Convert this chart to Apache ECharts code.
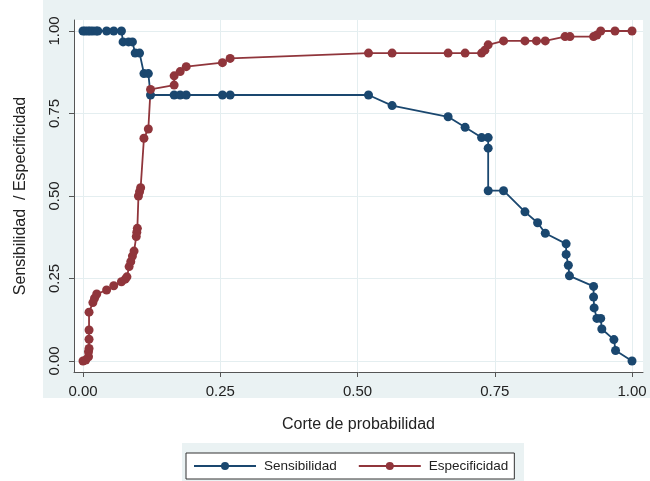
<!DOCTYPE html>
<html>
<head>
<meta charset="utf-8">
<script src="https://cdn.jsdelivr.net/npm/echarts@6/dist/echarts.min.js"></script>
<style>
  html, body { margin: 0; padding: 0; background: #fff; }
  #chart { width: 650px; height: 481px; }
</style>
</head>
<body>
<div id="chart"></div>
<script>
// cortes de probabilidad y valores
const sensX = [0.0, 0.004, 0.009, 0.013, 0.018, 0.024, 0.027, 0.043, 0.056, 0.070,
  0.073, 0.083, 0.090, 0.095, 0.103, 0.111, 0.119, 0.123, 0.166, 0.177, 0.188,
  0.254, 0.268, 0.520, 0.563, 0.665, 0.696, 0.726, 0.738, 0.738, 0.738, 0.766,
  0.805, 0.828, 0.842, 0.880, 0.880, 0.884, 0.886, 0.930, 0.930, 0.931, 0.936,
  0.943, 0.945, 0.967, 0.970, 1.0];
const sensY = [1.0, 1.0, 1.0, 1.0, 1.0, 1.0, 1.0, 1.0, 1.0, 1.0,
  0.967, 0.967, 0.967, 0.933, 0.933, 0.871, 0.871, 0.806, 0.806, 0.806, 0.806,
  0.806, 0.806, 0.806, 0.774, 0.740, 0.708, 0.677, 0.677, 0.645, 0.516, 0.516,
  0.452, 0.419, 0.387, 0.355, 0.323, 0.290, 0.258, 0.226, 0.194, 0.161, 0.129,
  0.129, 0.097, 0.065, 0.032, 0.0];

const specX = [0.0, 0.005, 0.010, 0.010, 0.011, 0.011, 0.011, 0.011, 0.018, 0.021,
  0.025, 0.043, 0.056, 0.070, 0.077, 0.080, 0.084, 0.087, 0.090, 0.093, 0.097,
  0.098, 0.099, 0.101, 0.103, 0.105, 0.111, 0.119, 0.123, 0.166, 0.166, 0.177,
  0.188, 0.254, 0.268, 0.520, 0.563, 0.665, 0.696, 0.726, 0.732, 0.738, 0.766,
  0.805, 0.826, 0.842, 0.878, 0.887, 0.930, 0.936, 0.943, 0.969, 1.0];
const specY = [0.0, 0.003, 0.013, 0.028, 0.038, 0.066, 0.094, 0.148, 0.177, 0.190,
  0.203, 0.215, 0.228, 0.240, 0.248, 0.255, 0.286, 0.301, 0.318, 0.333, 0.377,
  0.390, 0.402, 0.500, 0.513, 0.525, 0.675, 0.703, 0.823, 0.836, 0.864, 0.877,
  0.892, 0.904, 0.917, 0.933, 0.933, 0.933, 0.933, 0.933, 0.942, 0.958, 0.970,
  0.970, 0.970, 0.970, 0.983, 0.983, 0.983, 0.988, 1.0, 1.0, 1.0];

const ticks = [0, 0.25, 0.5, 0.75, 1];

const azul = '#1a476f';
const rojo = '#90353b';
const fondo = '#eaf2f3';

const chart = echarts.init(document.getElementById('chart'));

const pares = (xs, ys) => xs.map((x, i) => [x, ys[i]]);

const option = {
  animation: false,
  textStyle: { fontFamily: 'Liberation Sans, Arial, sans-serif' },
  graphic: [
    { type: 'rect', z: -10, shape: { x: 43, y: 0, width: 607, height: 398 }, style: { fill: fondo } },
    { type: 'rect', z: -10, shape: { x: 182, y: 443, width: 342, height: 38 }, style: { fill: fondo } }
  ],
  grid: {
    left: 74, right: 7, top: 20, bottom: 109,
    show: true, backgroundColor: '#fff', borderWidth: 0
  },
  legend: {
    left: 186, top: 453,
    orient: 'horizontal',
    backgroundColor: '#fff',
    borderColor: '#333',
    borderWidth: 1,
    padding: [6, 6, 6, 7],
    itemWidth: 62,
    itemHeight: 10,
    itemGap: 21,
    textStyle: { fontSize: 13.5, color: '#222', padding: [0, 0, 0, 3] },
    data: ['Sensibilidad', 'Especificidad']
  },
  xAxis: {
    type: 'value',
    min: -0.0164, max: 1.02,
    name: 'Corte de probabilidad',
    nameLocation: 'middle',
    nameGap: 45,
    nameTextStyle: { fontSize: 16, color: '#222' },
    axisLine: { show: true, onZero: false, lineStyle: { color: '#555', width: 1 } },
    axisTick: { show: true, length: 5, customValues: ticks, lineStyle: { color: '#555' } },
    axisLabel: { customValues: ticks, margin: 12, fontSize: 15, color: '#222',
      formatter: v => v.toFixed(2) },
    splitLine: { show: true, lineStyle: { color: '#e4eef0', width: 1 } }
  },
  yAxis: {
    type: 'value',
    min: -0.0333, max: 1.0333,
    name: 'Sensibilidad  / Especificidad',
    nameLocation: 'middle',
    nameGap: 45,
    nameTextStyle: { fontSize: 16, color: '#222' },
    axisLine: { show: true, onZero: false, lineStyle: { color: '#555', width: 1 } },
    axisTick: { show: true, length: 5, customValues: ticks, lineStyle: { color: '#555' } },
    axisLabel: { customValues: ticks, margin: 12, fontSize: 15, color: '#222', rotate: 90,
      formatter: v => v.toFixed(2) },
    splitLine: { show: true, lineStyle: { color: '#e4eef0', width: 1 } }
  },
  series: [
    {
      name: 'Sensibilidad',
      type: 'line',
      data: pares(sensX, sensY),
      symbol: 'circle',
      symbolSize: 9,
      color: azul,
      lineStyle: { color: azul, width: 1.8 },
      itemStyle: { color: azul }
    },
    {
      name: 'Especificidad',
      type: 'line',
      data: pares(specX, specY),
      symbol: 'circle',
      symbolSize: 9,
      color: rojo,
      lineStyle: { color: rojo, width: 1.8 },
      itemStyle: { color: rojo }
    }
  ]
};

chart.setOption(option);
</script>
</body>
</html>
